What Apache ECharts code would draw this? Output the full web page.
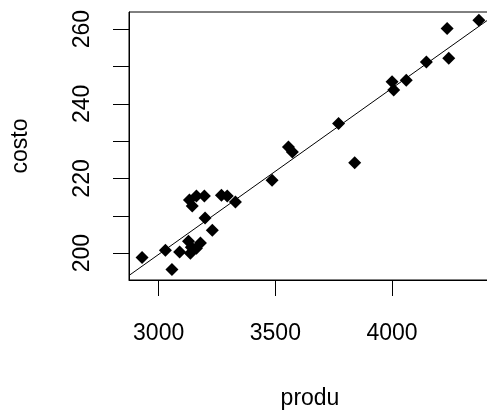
<!DOCTYPE html>
<html>
<head>
<meta charset="utf-8">
<script src="https://cdn.jsdelivr.net/npm/echarts@6/dist/echarts.min.js"></script>
<style>
  html, body { margin: 0; padding: 0; background: #fff; }
  #chart { width: 487px; height: 415px; }
</style>
</head>
<body>
<div id="chart"></div>
<script>
// produ vs costo
var produ = [2929, 3029, 3057, 3090, 3128, 3140, 3136, 3162, 3179, 3132,
             3144, 3162, 3196, 3199, 3230, 3269, 3294, 3329, 3486, 3556,
             3573, 3771, 3840, 4000, 4007, 4061, 4147, 4236, 4243, 4372];
var costo = [198.8, 200.8, 195.6, 200.3, 203.2, 201.6, 200.0, 201.3, 202.7, 214.2,
             212.6, 215.3, 215.3, 209.4, 206.1, 215.5, 215.3, 213.7, 219.5, 228.4,
             227.1, 234.7, 224.2, 245.9, 243.7, 246.3, 251.2, 260.2, 252.2, 262.4];
var xTickLabels = [3000, 3500, 4000];
var yTicks = [200, 210, 220, 230, 240, 250, 260];
var yTickLabels = [200, 220, 240, 260];

var xMin = 2873, xMax = 4424;
var yMin = 192.8, yMax = 264.6;

// least squares fit, like abline(lm(costo ~ produ))
function fit(x, y) {
    var n = x.length, sx = 0, sy = 0, sxx = 0, sxy = 0;
    for (var i = 0; i < n; i++) {
        sx += x[i]; sy += y[i];
        sxx += x[i] * x[i]; sxy += x[i] * y[i];
    }
    var b = (n * sxy - sx * sy) / (n * sxx - sx * sx);
    return { a: (sy - b * sx) / n, b: b };
}
var lm = fit(produ, costo);

var points = [];
for (var i = 0; i < produ.length; i++) points.push([produ[i], costo[i]]);

var font = 'Liberation Sans, Arial, sans-serif';
var chart = echarts.init(document.getElementById('chart'));
chart.setOption({
    animation: false,
    backgroundColor: '#fff',
    grid: {
        left: 129, top: 12, width: 362, height: 268,
        containLabel: false, outerBoundsMode: 'none',
        show: true, borderColor: '#000', borderWidth: 1
    },
    xAxis: {
        type: 'value', min: xMin, max: xMax,
        name: 'produ', nameLocation: 'middle', nameGap: 107,
        nameTextStyle: { color: '#000', fontSize: 23, fontFamily: font },
        axisLine: { show: true, lineStyle: { color: '#000', width: 1 } },
        axisTick: { show: true, length: 16, customValues: xTickLabels, lineStyle: { color: '#000' } },
        axisLabel: {
            customValues: xTickLabels, margin: 42,
            formatter: function (v) { return String(v); },
            color: '#000', fontSize: 23, fontFamily: font
        },
        splitLine: { show: false }
    },
    yAxis: {
        type: 'value', min: yMin, max: yMax,
        name: 'costo', nameLocation: 'middle', nameGap: 97, nameRotate: 90,
        nameTextStyle: { color: '#000', fontSize: 23, fontFamily: font },
        axisLine: { show: true, lineStyle: { color: '#000', width: 1 } },
        axisTick: { show: true, length: 16, customValues: yTicks, lineStyle: { color: '#000' } },
        axisLabel: {
            customValues: yTickLabels, rotate: 90, margin: 35,
            align: 'center', verticalAlign: 'bottom',
            formatter: function (v) { return String(v); },
            color: '#000', fontSize: 23, fontFamily: font
        },
        splitLine: { show: false }
    },
    series: [
        {
            type: 'line',
            data: [[xMin, lm.a + lm.b * xMin], [xMax, lm.a + lm.b * xMax]],
            showSymbol: false, silent: true,
            lineStyle: { color: '#000', width: 1 },
            clip: true
        },
        {
            type: 'scatter',
            data: points,
            symbol: 'diamond', symbolSize: 13,
            itemStyle: { color: '#000', opacity: 1 }
        }
    ]
});
</script>
</body>
</html>
